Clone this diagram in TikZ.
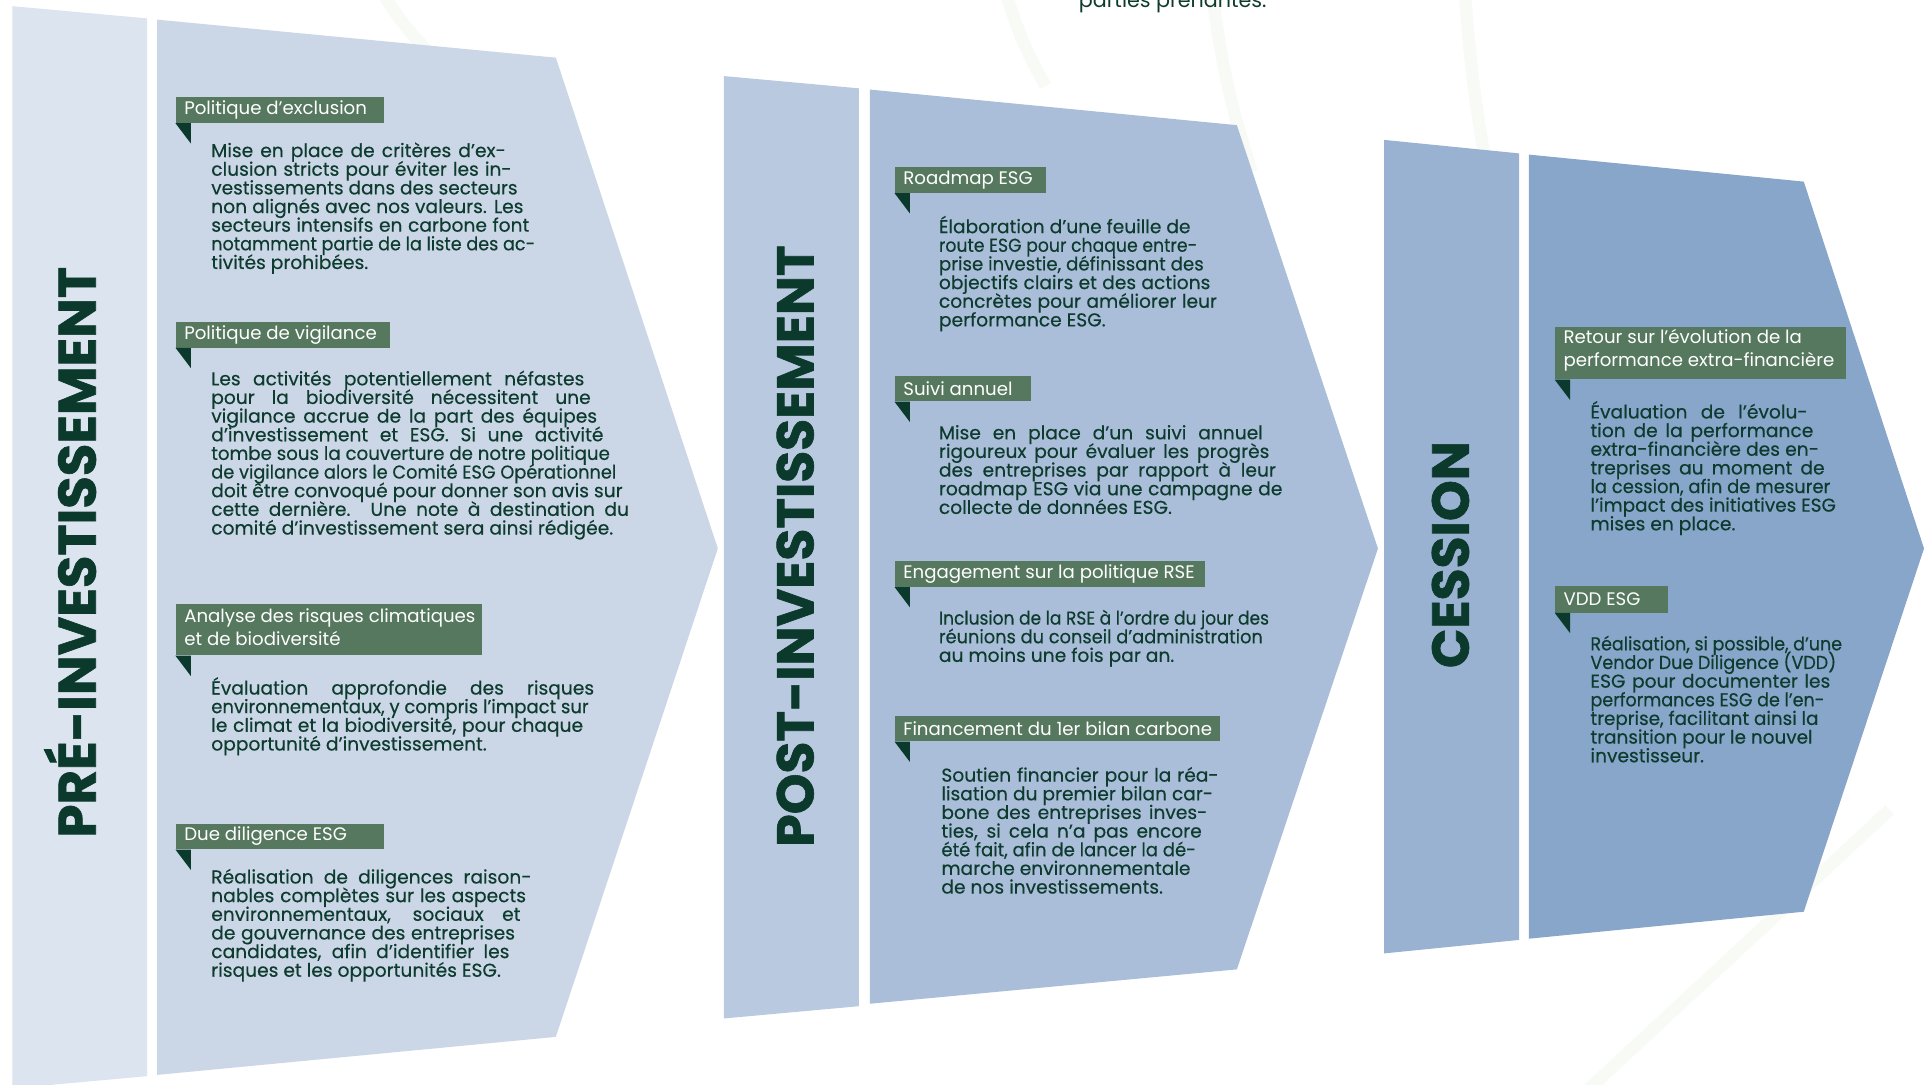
\documentclass[tikz,border=0pt]{standalone}
\usepackage{fontspec}
\setmainfont{Poppins}
\newfontfamily\bodyfont{Poppins}[FakeBold=0.35]
\newfontfamily\titlefont{Poppins}[BoldFeatures={FakeBold=1.2}]
\usepackage{graphicx}
\definecolor{bas}{HTML}{DCE4EF}
\definecolor{bac}{HTML}{CBD7E7}
\definecolor{bbs}{HTML}{B9CAE0}
\definecolor{bbc}{HTML}{AABED9}
\definecolor{bcs}{HTML}{9AB2D1}
\definecolor{bcc}{HTML}{88A5CA}
\definecolor{tabc}{HTML}{56785F}
\definecolor{foldc}{HTML}{0B3A2C}
\definecolor{ink}{HTML}{0D3B2E}
\definecolor{decoc}{HTML}{F7FAF5}
\newsavebox\lnbox
\newlength\lnw
\newcommand\jline[2]{%
  \setlength\lnw{#1}%
  \sbox\lnbox{#2}%
  \ifdim\wd\lnbox>\lnw
    \hbox to \lnw{\resizebox{\lnw}{\ht\lnbox}{\usebox\lnbox}}%
  \else
    \hbox to \lnw{#2}%
  \fi}
\newcommand\jpar[4]{%
  \vtop{\baselineskip=15.2pt\lineskiplimit=-20pt\lineskip=0pt
    \foreach \ln [count=\i from 0] in {#3}{%
      \jline{\dimexpr #1pt + #2pt*\i\relax}{\ln}}%
    \hbox{#4}}}
\tikzset{
  bodytxt/.style={anchor=base west, inner sep=0pt, text=ink, font=\bodyfont\fontsize{15.2}{15.2}\selectfont},
  tabbox/.style={fill=tabc, anchor=north west, inner sep=0pt},
  tablbl/.style={anchor=west, inner sep=0pt, xshift=7pt, text=white, align=left, font=\fontsize{14.8}{18.5}\selectfont},
  titletxt/.style={anchor=base, rotate=90, inner sep=0pt, text=foldc, font=\titlefont\bfseries},
  decoline/.style={draw=decoc, line width=10pt},
}
\newcommand\fold[1]{\fill[foldc] (#1.south west) -- ++(12.5,0) -- ++(0,16.5) -- cycle;}
\begin{document}
\begin{tikzpicture}[x=1pt,y=-1pt]
\useasboundingbox (0,0) rectangle (1568,884);
\clip (0,0) rectangle (1568,884);
\fill[white] (0,0) rectangle (1568,884);
% faint background decoration
\draw[decoline] (312,-5) to[bend right=6] (352,45);
\draw[decoline] (820,-5) to[bend right=6] (852,70);
\draw[decoline] (988,-5) to[bend right=5] (1020,140);
\draw[decoline] (1194,-5) to[bend right=3] (1212,140);
\draw[decoline] (1290,892) -- (1540,660);
% bands
\fill[bas] (10,5) -- (120,15) -- (120,877) -- (10,887) -- cycle;
\fill[bac] (128,16) -- (453,47) -- (585,447) -- (453,845) -- (128,876) -- cycle;
\fill[bbs] (590,62) -- (700,72) -- (700,820) -- (590,830) -- cycle;
\fill[bbc] (709,73) -- (1008,102) -- (1123,447) -- (1008,790) -- (709,818) -- cycle;
\fill[bcs] (1128,114) -- (1238,125) -- (1238,766) -- (1128,777) -- cycle;
\fill[bcc] (1246,126) -- (1470,148) -- (1568,447) -- (1470,743) -- (1246,765) -- cycle;
% top text (cut)
\node[anchor=base west, inner sep=0pt, text=ink] (toptxt) at (879,6.5) {\resizebox{153pt}{!}{parties prenantes.}};
% titles
\node[titletxt] (h1) at (78,450) {\resizebox{465pt}{!}{PRÉ-INVESTISSEMENT}};
\node[titletxt] (h2) at (663,445) {\resizebox{490pt}{!}{POST-INVESTISSEMENT}};
\node[titletxt] (h3) at (1197,452) {\resizebox{185pt}{!}{CESSION}};
% tabs
\node[tabbox, minimum width=170pt, minimum height=21pt] (t1) at (143,79) {};
\node[tablbl] (l1) at (t1.west) {Politique d’exclusion};
\node[tabbox, minimum width=175pt, minimum height=21pt] (t2) at (143,262) {};
\node[tablbl] (l2) at (t2.west) {Politique de vigilance};
\node[tabbox, minimum width=250pt, minimum height=42pt] (t3) at (143,492) {};
\node[tablbl, yshift=2pt] (l3) at (t3.west) {Analyse des risques climatiques\\et de biodiversité};
\node[tabbox, minimum width=170pt, minimum height=21pt] (t4) at (143,671) {};
\node[tablbl] (l4) at (t4.west) {Due diligence ESG};
\node[tabbox, minimum width=123pt, minimum height=21pt] (t5) at (729,136) {};
\node[tablbl] (l5) at (t5.west) {Roadmap ESG};
\node[tabbox, minimum width=111pt, minimum height=21pt] (t6) at (729,306) {};
\node[tablbl] (l6) at (t6.west) {Suivi annuel};
\node[tabbox, minimum width=253pt, minimum height=21pt] (t7) at (729,457) {};
\node[tablbl] (l7) at (t7.west) {Engagement sur la politique RSE};
\node[tabbox, minimum width=265pt, minimum height=21pt] (t8) at (729,583) {};
\node[tablbl] (l8) at (t8.west) {Financement du 1er bilan carbone};
\node[tabbox, minimum width=237pt, minimum height=43pt] (t9) at (1267,266) {};
\node[tablbl, yshift=2pt] (l9) at (t9.west) {Retour sur l’évolution de la\\performance extra-financière};
\node[tabbox, minimum width=92pt, minimum height=22pt] (t10) at (1267,477) {};
\node[tablbl] (l10) at (t10.west) {VDD ESG};
\fold{t1}\fold{t2}\fold{t3}\fold{t4}\fold{t5}\fold{t6}\fold{t7}\fold{t8}\fold{t9}\fold{t10}
% body paragraphs
\node[bodytxt] (p1) at (172,128) {\jpar{240}{4.8}{{Mise en place de critères d’ex-},{clusion stricts pour éviter les in-},{vestissements dans des secteurs},{non alignés avec nos valeurs. Les},{secteurs intensifs en carbone font},{notamment partie de la liste des ac-}}{tivités prohibées.}};
\node[bodytxt] (p2) at (172,314) {\jpar{304}{5.2}{{Les activités potentiellement néfastes},{pour la biodiversité nécessitent une},{vigilance accrue de la part des équipes},{d’investissement et ESG. Si une activité},{tombe sous la couverture de notre politique},{de vigilance alors le Comité ESG Opérationnel},{doit être convoqué pour donner son avis sur},{cette dernière. Une note à destination du}}{comité d’investissement sera ainsi rédigée.}};
\node[bodytxt] (p3) at (172,566) {\jpar{312}{-4.5}{{Évaluation approfondie des risques},{environnementaux, y compris l’impact sur},{le climat et la biodiversité, pour chaque}}{opportunité d’investissement.}};
\node[bodytxt] (p4) at (172,720) {\jpar{261}{-4.5}{{Réalisation de diligences raison-},{nables complètes sur les aspects},{environnementaux, sociaux et},{de gouvernance des entreprises},{candidates, afin d’identifier les}}{risques et les opportunités ESG.}};
\node[bodytxt] (p5) at (765,190) {\jpar{205}{5.4}{{Élaboration d’une feuille de},{route ESG pour chaque entre-},{prise investie, définissant des},{objectifs clairs et des actions},{concrètes pour améliorer leur}}{performance ESG.}};
\node[bodytxt] (p6) at (765,358) {\jpar{264}{5.3}{{Mise en place d’un suivi annuel},{rigoureux pour évaluer les progrès},{des entreprises par rapport à leur},{roadmap ESG via une campagne de}}{collecte de données ESG.}};
\node[bodytxt] (p7) at (765,509) {\jpar{269}{-5}{{Inclusion de la RSE à l’ordre du jour des},{réunions du conseil d’administration}}{au moins une fois par an.}};
\node[bodytxt] (p8) at (767,637) {\jpar{226}{-4.6}{{Soutien financier pour la réa-},{lisation du premier bilan car-},{bone des entreprises inves-},{ties, si cela n’a pas encore},{été fait, afin de lancer la dé-},{marche environnementale}}{de nos investissements.}};
\node[bodytxt] (p9) at (1296,341) {\jpar{177}{4.6}{{Évaluation de l’évolu-},{tion de la performance},{extra-financière des en-},{treprises au moment de},{la cession, afin de mesurer},{l’impact des initiatives ESG}}{mises en place.}};
\node[bodytxt] (p10) at (1296,530) {\jpar{205}{-4.8}{{Réalisation, si possible, d’une},{Vendor Due Diligence (VDD)},{ESG pour documenter les},{performances ESG de l’en-},{treprise, facilitant ainsi la},{transition pour le nouvel}}{investisseur.}};
\end{tikzpicture}
\end{document}
